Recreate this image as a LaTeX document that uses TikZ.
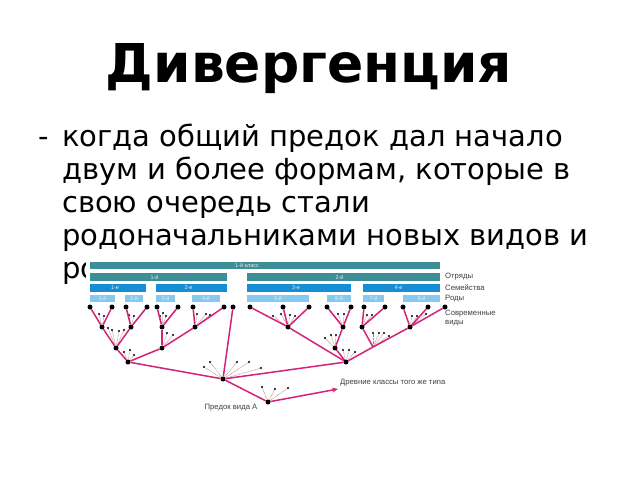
\documentclass[tikz,border=0pt]{standalone}
\usepackage{fontspec}
\setmainfont{DejaVu Sans}
\newfontfamily\smallfont{Liberation Sans}
\usepackage{xcolor}
\usetikzlibrary{arrows.meta, positioning, calc}

\definecolor{classc}{RGB}{62,142,152}
\definecolor{famc}{RGB}{22,142,212}
\definecolor{genc}{RGB}{132,202,240}
\definecolor{branchc}{RGB}{212,34,122}
\definecolor{fanc}{RGB}{170,130,120}

\tikzset{
    branch/.style={draw=branchc, line width=1.5pt},
    fan/.style={draw=fanc, line width=0.45pt, dash pattern=on 0.8pt off 0.6pt},
    sp/.style={circle, fill=black, inner sep=0pt, minimum size=5pt},
    barlbl/.style={font=\smallfont\fontsize{5.5}{6}\selectfont, text=white!92!black, inner sep=0pt},
    sidelbl/.style={font=\smallfont\fontsize{7.7}{8.7}\selectfont, text=black!75, inner sep=0pt, anchor=west, align=left}
}

\begin{document}
\begin{tikzpicture}[x=1pt, y=-1pt]
\useasboundingbox (0,0) rectangle (640,480);

\node[font=\bfseries\fontsize{53.5}{58}\selectfont, anchor=base] (title) at (309,82) {Дивергенция};

\begin{scope}[every node/.style={font=\fontsize{29}{34}\selectfont, anchor=base west, inner sep=0pt}]
    \node (dash) at (38,146) {-};
    \node (line1) at (62,146) {когда общий предок дал начало};
    \node (line2) at (62,179) {двум и более формам, которые в};
    \node (line3) at (62,212) {свою очередь стали};
    \node (line4) at (62,245) {родоначальниками новых видов и};
    \node (line5) at (62,278) {ро};
\end{scope}

% background of the inset
\fill[white] (86,257) rectangle (505,420);

% taxon bars
\fill[classc] (90,262) rectangle (440,269);
\node[barlbl] (cls1) at (247,265.5) {1-й класс};
\foreach \a/\b/\t [count=\i] in {90/227/1-й, 247/440/2-й}{
    \fill[classc] (\a,273) rectangle (\b,281);
    \node[barlbl] (ord\i) at ({(\a+\b)/2-4},277) {\t};
}
\foreach \a/\b/\t [count=\i] in {90/146/1-е, 156/227/2-е, 247/351/3-е, 363/440/4-е}{
    \fill[famc] (\a,284) rectangle (\b,292);
    \node[barlbl] (fam\i) at ({(\a+\b)/2-3},288) {\t};
}
\foreach \a/\b/\t [count=\i] in {90/115/1-й, 125/143/2-й, 156/175/3-й, 192/220/4-й,
                                 247/309/5-й, 327/351/6-й, 363/384/7-й, 403/440/8-й}{
    \fill[genc] (\a,295) rectangle (\b,302);
    \node[barlbl] (gen\i) at ({(\a+\b)/2},298.5) {\t};
}
\node[sidelbl] (lord) at (445,277) {Отряды};
\node[sidelbl] (lfam) at (445,288) {Семейства};
\node[sidelbl] (lgen) at (445,298.5) {Роды};

% nodes of the tree
\foreach \n/\x in {1/90, 2/112, 3/126, 4/147, 5/157, 6/178, 7/193, 8/224, 9/233,
                   10/250, 11/283, 12/309, 13/327, 14/351, 15/364, 16/385, 17/403, 18/428, 19/445}
    \node[sp] (s\n) at (\x,307) {};
\node[sidelbl, anchor=north west] (lmod) at (445,310) {Современные\\виды};

\foreach \n/\x/\y in {g1/102/327, g2/131/327, f1/116/348, g3/162/327, f2/162/348, g4/195/327,
                      o1/128/362, cls/223/379, pa/268/402, g5/288/327, g6/343/327, f3/335/348,
                      o2/346/362, g7/362/327, g8/410/327}
    \node[sp] (\n) at (\x,\y) {};
\coordinate (f4) at (373,347);
\coordinate (arr) at (338,389);

% extinct forms
\foreach \a/\pts in {g1/{(99,314),(104,316)}, g2/{(129,315),(134,316)},
                     f1/{(108,328),(112,330),(119,331),(124,330)},
                     g3/{(163,313),(160,316),(166,316)}, f2/{(167,333),(173,335)},
                     g4/{(197,314),(206,314),(210,315)}, o1/{(124,352),(130,350),(134,355)},
                     cls/{(204,367),(210,362),(237,362),(249,362),(261,368)},
                     pa/{(262,387),(275,389),(288,388)},
                     g5/{(273,316),(281,314),(290,315),(295,316)},
                     g6/{(338,314),(344,314)}, f3/{(325,338),(331,335),(336,335)},
                     o2/{(343,350),(349,350),(355,352)}, g7/{(367,315),(372,315)},
                     f4/{(373,333),(379,333),(384,333),(389,336)},
                     g8/{(412,316),(417,316),(426,314)}}{
    \foreach \p in \pts {
        \draw[fan] (\a) -- \p;
        \fill \p circle (1.1pt);
    }
}

% branches
\foreach \a/\b in {s1/g1, s2/g1, s3/g2, s4/g2, g1/f1, g2/f1, s5/g3, s6/g3, g3/f2,
                   s7/g4, s8/g4, g4/f2, f1/o1, f2/o1, o1/cls, s9/cls, cls/o2, cls/pa,
                   s10/g5, s11/g5, s12/g5, g5/o2, s13/g6, s14/g6, g6/f3, f3/o2,
                   s15/g7, s16/g7, g7/f4, o2/f4, f4/g8, s17/g8, s18/g8, g8/s19}
    \draw[branch] (\a) -- (\b);
\draw[branch, -{Stealth[length=6pt, width=5pt]}] (pa) -- (arr);

\node[sidelbl, right=2pt of arr, yshift=6pt] (lanc) {Древние классы того же типа};
\node[sidelbl, anchor=center] (lpa) at (231,408) {Предок вида А};
\end{tikzpicture}
\end{document}
